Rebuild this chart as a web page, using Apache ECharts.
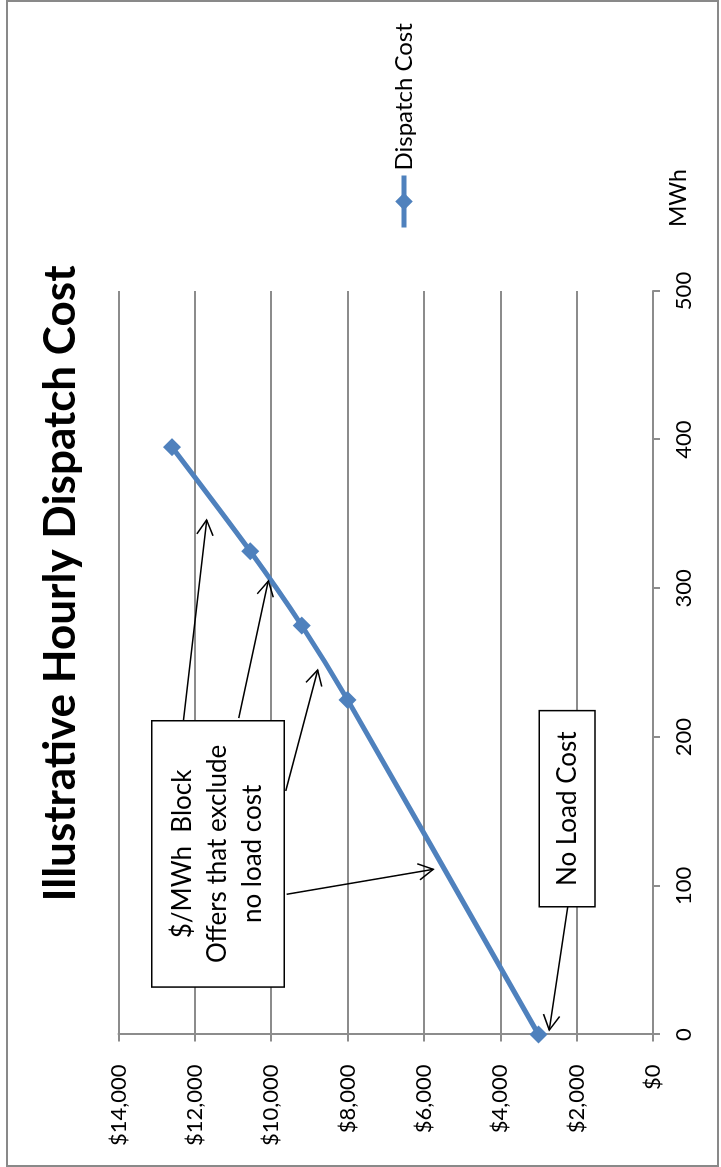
<!DOCTYPE html>
<html>
<head>
<meta charset="utf-8">
<title>Illustrative Hourly Dispatch Cost</title>
<script src="https://cdn.jsdelivr.net/npm/echarts@6/dist/echarts.min.js"></script>
<style>
  html, body { margin: 0; padding: 0; background: #fff; overflow: hidden; }
  body { width: 721px; height: 1167px; position: relative; }
  /* The chart is laid out landscape and turned a quarter turn counter-clockwise */
  #chart {
    position: absolute; left: 0; top: 0;
    width: 1167px; height: 721px;
    transform-origin: 0 0;
    transform: translate(0, 1167px) rotate(-90deg);
  }
</style>
</head>
<body>
<div id="chart"></div>
<script>
// Dispatch cost curve: MWh dispatched vs hourly cost ($)
const seriesName = 'Dispatch Cost';
const mwh = [0, 225, 275, 325, 395];
const cost = [3000, 8000, 9200, 10550, 12600];

// Axis ranges and ticks
const mwhTicks = [0, 100, 200, 300, 400, 500];
const costTicks = [0, 2000, 4000, 6000, 8000, 10000, 12000, 14000];

// Callout boxes (extent in data units) and their text
const boxLabels = ['$/MWh  Block\nOffers that exclude\nno load cost', 'No Load Cost'];
const boxMWh = [[31.9, 211.0], [85.9, 217.8]];
const boxCost = [[9656, 13129], [1519, 2978]];

// Callout arrows: from a box edge to the point on the curve they describe
const arrowFrom = [[211.5, 12300], [212.8, 10850], [163.8, 9620], [94.3, 9594], [85.9, 2234]];
const arrowTo = [[346.0, 11690], [305.0, 10075], [245.1, 8782], [111.1, 5754], [3.0, 2716]];

const FONT = 'Lato, "Open Sans", sans-serif';
const BLUE = '#4f81bd';
const GREY = '#8c8c8c';

const chart = echarts.init(document.getElementById('chart'), null, { renderer: 'canvas' });

const fmtMoney = v => '$' + v.toLocaleString('en-US');

chart.setOption({
  animation: false,
  backgroundColor: '#fff',
  textStyle: { fontFamily: FONT },
  title: {
    text: 'Illustrative Hourly Dispatch Cost',
    left: 'center',
    top: 34,
    textStyle: { fontFamily: FONT, fontWeight: 'bold', fontSize: 44, color: '#000' }
  },
  legend: {
    data: [seriesName],
    left: 937,
    top: 392,
    padding: 0,
    itemWidth: 52,
    itemHeight: 22,
    lineStyle: { width: 5, color: BLUE },
    textStyle: { fontFamily: FONT, fontSize: 24, color: '#000' }
  },
  graphic: [{
    type: 'rect',
    shape: { x: 1, y: 7, width: 1165, height: 711 },
    style: { fill: null, stroke: '#898989', lineWidth: 2 },
    z: 0, silent: true
  }],
  grid: { left: 132.5, right: 291, top: 118.5, bottom: 68 },
  xAxis: {
    type: 'value',
    min: mwhTicks[0],
    max: mwhTicks[mwhTicks.length - 1],
    interval: mwhTicks[1] - mwhTicks[0],
    name: 'MWh',
    nameLocation: 'end',
    nameGap: 64,
    nameTextStyle: {
      fontFamily: FONT, fontSize: 23, color: '#000',
      align: 'left', verticalAlign: 'top', padding: [14, 0, 0, 0]
    },
    axisLine: { show: true, lineStyle: { color: GREY, width: 2 } },
    axisTick: { show: true, inside: false, length: 7, lineStyle: { color: GREY, width: 2 } },
    axisLabel: { margin: 20, fontFamily: FONT, fontSize: 22, color: '#000' },
    splitLine: { show: false }
  },
  yAxis: {
    type: 'value',
    min: costTicks[0],
    max: costTicks[costTicks.length - 1],
    interval: costTicks[1] - costTicks[0],
    axisLine: { show: true, lineStyle: { color: GREY, width: 2 } },
    axisTick: { show: true, inside: false, length: 7, lineStyle: { color: GREY, width: 2 } },
    axisLabel: { margin: 30, fontFamily: FONT, fontSize: 22, color: '#000', formatter: fmtMoney },
    splitLine: { show: true, lineStyle: { color: GREY, width: 2 } }
  },
  series: [
    {
      name: seriesName,
      type: 'line',
      data: mwh.map((m, i) => [m, cost[i]]),
      smooth: 0.3,
      symbol: 'diamond',
      symbolSize: 18,
      showSymbol: true,
      lineStyle: { color: BLUE, width: 5 },
      itemStyle: { color: BLUE },
      z: 2
    },
    {
      name: 'arrows',
      type: 'custom',
      data: arrowFrom.map((f, i) => [f[0], f[1], arrowTo[i][0], arrowTo[i][1]]),
      encode: { x: [0, 2], y: [1, 3] },
      silent: true,
      z: 4,
      renderItem: function (params, api) {
        const a = api.coord([api.value(0), api.value(1)]);
        const b = api.coord([api.value(2), api.value(3)]);
        const ang = Math.atan2(b[1] - a[1], b[0] - a[0]);
        const L = 17, w = 0.5;
        const h1 = [b[0] - L * Math.cos(ang - w), b[1] - L * Math.sin(ang - w)];
        const h2 = [b[0] - L * Math.cos(ang + w), b[1] - L * Math.sin(ang + w)];
        return {
          type: 'group',
          children: [
            { type: 'line', shape: { x1: a[0], y1: a[1], x2: b[0], y2: b[1] },
              style: { stroke: '#000', lineWidth: 1.5 } },
            { type: 'polyline', shape: { points: [h1, b, h2] },
              style: { stroke: '#000', lineWidth: 1.5, fill: null } }
          ]
        };
      }
    },
    {
      name: 'callouts',
      type: 'custom',
      data: boxMWh.map((m, i) => [m[0], boxCost[i][0], m[1], boxCost[i][1]]),
      encode: { x: [0, 2], y: [1, 3] },
      silent: true,
      z: 3,
      renderItem: function (params, api) {
        const p0 = api.coord([api.value(0), api.value(3)]);
        const p1 = api.coord([api.value(2), api.value(1)]);
        const x = Math.min(p0[0], p1[0]), y = Math.min(p0[1], p1[1]);
        const w = Math.abs(p1[0] - p0[0]), h = Math.abs(p1[1] - p0[1]);
        return {
          type: 'group',
          children: [
            { type: 'rect', shape: { x: x, y: y, width: w, height: h },
              style: { fill: '#fff', stroke: '#000', lineWidth: 1.5 } },
            { type: 'text',
              style: {
                text: boxLabels[params.dataIndex],
                x: x + w / 2, y: y + h / 2,
                align: 'center', verticalAlign: 'middle',
                fontFamily: FONT, fontSize: 26, lineHeight: 35, fill: '#000'
              } }
          ]
        };
      }
    }
  ]
});
</script>
</body>
</html>
